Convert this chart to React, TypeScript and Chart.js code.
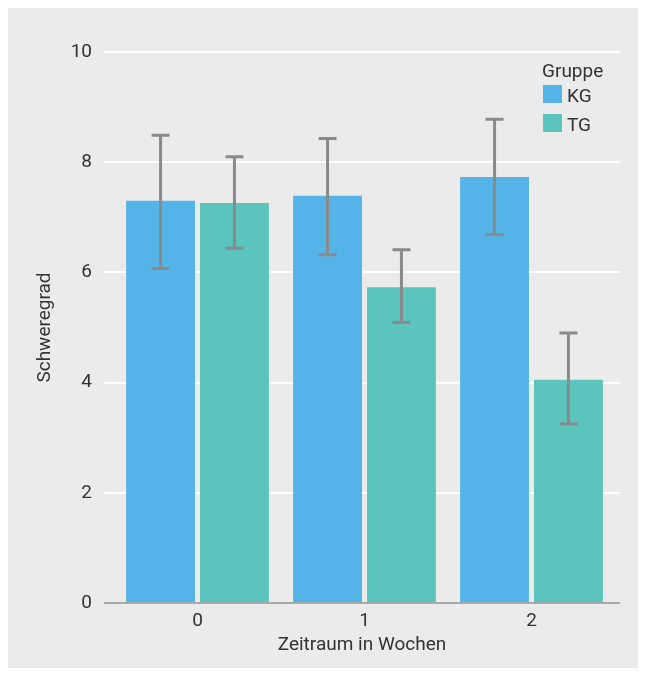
import React, { useEffect, useRef } from "react";
import { Chart, registerables } from "chart.js";

Chart.register(...registerables);

const weeks = [0, 1, 2];
const groupNames = ["KG", "TG"];
const kgMeans = [7.3, 7.39, 7.73];
const kgLower = [6.07, 6.32, 6.69];
const kgUpper = [8.49, 8.43, 8.78];
const tgMeans = [7.26, 5.73, 4.05];
const tgLower = [6.44, 5.09, 3.25];
const tgUpper = [8.1, 6.41, 4.9];

const KG_COLOR = "#55b4e7";
const TG_COLOR = "#5bc4bd";
const BG = "#eaebea";
const TEXT = "#333333";
const FONT = "Roboto";

const errorLows = [kgLower, tgLower];
const errorHighs = [kgUpper, tgUpper];

const bgPlugin = {
  id: "bgFill",
  beforeDraw(chart: any) {
    const { ctx, width, height } = chart;
    ctx.save();
    ctx.fillStyle = BG;
    ctx.fillRect(0, 0, width, height);
    ctx.restore();
  },
};

const errorPlugin = {
  id: "errorBars",
  afterDatasetsDraw(chart: any) {
    const { ctx } = chart;
    const y = chart.scales.y;
    ctx.save();
    ctx.strokeStyle = "#8a8a8a";
    ctx.lineWidth = 3;
    chart.data.datasets.forEach((_: any, di: number) => {
      const meta = chart.getDatasetMeta(di);
      meta.data.forEach((bar: any, i: number) => {
        const x = bar.x;
        const yl = y.getPixelForValue(errorLows[di][i]);
        const yh = y.getPixelForValue(errorHighs[di][i]);
        ctx.beginPath();
        ctx.moveTo(x, yl);
        ctx.lineTo(x, yh);
        ctx.moveTo(x - 9, yl);
        ctx.lineTo(x + 9, yl);
        ctx.moveTo(x - 9, yh);
        ctx.lineTo(x + 9, yh);
        ctx.stroke();
      });
    });
    ctx.restore();
  },
};

const legendPlugin = {
  id: "customLegend",
  afterDraw(chart: any) {
    const { ctx } = chart;
    ctx.save();
    ctx.font = `19px ${FONT}`;
    ctx.fillStyle = TEXT;
    ctx.textAlign = "left";
    ctx.textBaseline = "alphabetic";
    ctx.fillText("Gruppe", 534, 68.5);
    const rows = [
      { y: 77, base: 93.5 },
      { y: 106, base: 122.5 },
    ];
    chart.data.datasets.forEach((ds: any, i: number) => {
      const r = rows[i];
      ctx.fillStyle = ds.backgroundColor;
      ctx.fillRect(535, r.y, 19, 18);
      ctx.fillStyle = TEXT;
      ctx.fillText(ds.label, 559, r.base);
    });
    ctx.restore();
  },
};

export default function App() {
  const ref = useRef<HTMLCanvasElement>(null);
  useEffect(() => {
    if (!ref.current) return;
    const chart = new Chart(ref.current, {
      type: "bar",
      data: {
        datasets: [
          {
            label: groupNames[0],
            data: weeks.map((w, i) => ({ x: w, y: kgMeans[i] })),
            backgroundColor: KG_COLOR,
            borderWidth: 0,
          },
          {
            label: groupNames[1],
            data: weeks.map((w, i) => ({ x: w, y: tgMeans[i] })),
            backgroundColor: TG_COLOR,
            borderWidth: 0,
          },
        ],
      },
      plugins: [bgPlugin, errorPlugin, legendPlugin],
      options: {
        responsive: false,
        animation: false,
        categoryPercentage: 0.885,
        barPercentage: 0.932,
        layout: { padding: { left: 0, right: 18, top: 44, bottom: 0 } },
        plugins: {
          legend: { display: false },
          tooltip: { enabled: false },
        },
        scales: {
          x: {
            type: "linear",
            min: -0.56,
            max: 2.53,
            offset: false,
            grid: { display: false, offset: false, drawTicks: false },
            border: { display: false },
            afterFit: (s: any) => {
              s.height = 65;
            },
            afterBuildTicks: (s: any) => {
              s.ticks = weeks.map((w) => ({ value: w }));
            },
            ticks: {
              stepSize: 1,
              includeBounds: false,
              autoSkip: false,
              padding: 7,
              color: TEXT,
              font: { family: FONT, size: 19 },
              callback: (v: any) => String(v),
            },
            title: {
              display: true,
              text: "Zeitraum in Wochen",
              color: TEXT,
              font: { family: FONT, size: 19 },
              padding: { top: 0, bottom: 11 },
            },
          },
          y: {
            min: 0,
            max: 10,
            afterFit: (s: any) => {
              s.width = 96;
            },
            grid: {
              color: (c: any) => (c.tick && c.tick.value === 0 ? "#a9a9ab" : "#ffffff"),
              lineWidth: 2,
              drawTicks: false,
            },
            border: { display: false },
            ticks: {
              stepSize: 2,
              padding: 12,
              color: TEXT,
              font: { family: FONT, size: 19 },
            },
            title: {
              display: true,
              text: "Schweregrad",
              color: TEXT,
              font: { family: FONT, size: 19 },
              padding: { top: 26, bottom: 0 },
            },
          },
        },
      },
    } as any);
    return () => chart.destroy();
  }, []);
  return <canvas ref={ref} width={630} height={660} style={{ display: "block" }} />;
}
